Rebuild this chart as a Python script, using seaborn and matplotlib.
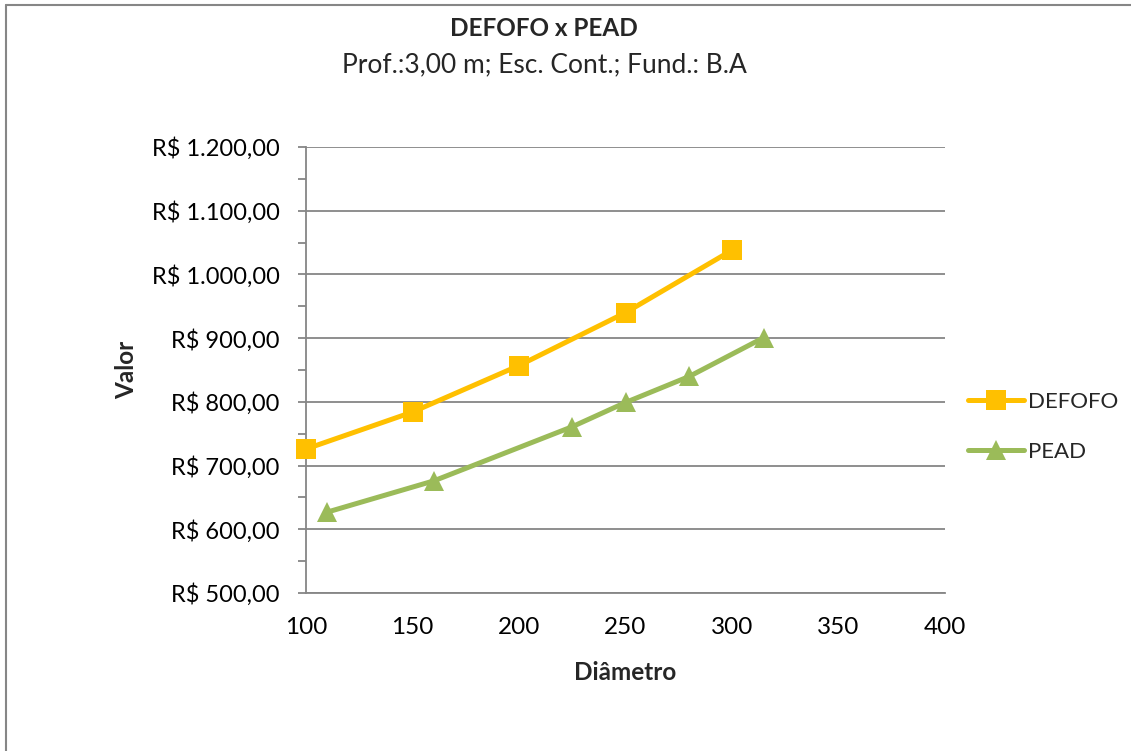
import matplotlib
matplotlib.use('Agg')
import matplotlib.pyplot as plt
from matplotlib.ticker import FuncFormatter, MultipleLocator
from matplotlib.lines import Line2D
import pandas as pd
import seaborn as sns

# dados
defofo_diam = [100, 150, 200, 250, 300]
defofo_valor = [726, 784, 857, 940, 1038]
pead_diam = [110, 160, 225, 250, 280, 315]
pead_valor = [627, 676, 761, 799, 840, 901]

titulo = 'DEFOFO x PEAD'
subtitulo = 'Prof.:3,00 m; Esc. Cont.; Fund.: B.A'

sns.set_style('white')
plt.rcParams['font.family'] = ['Lato', 'DejaVu Sans']

GRAY = '#868686'
W, H = 1131, 751

fig = plt.figure(figsize=(W / 100, H / 100), dpi=100)
ax = fig.add_axes([306 / W, 1 - 593 / H, (945 - 306) / W, (593 - 147) / H])

df_defofo = pd.DataFrame({'Diâmetro': defofo_diam, 'Valor': defofo_valor})
df_pead = pd.DataFrame({'Diâmetro': pead_diam, 'Valor': pead_valor})

sns.lineplot(data=df_defofo, x='Diâmetro', y='Valor', ax=ax, color='#FFC000',
             marker='s', markersize=14, markeredgewidth=0, linewidth=3.6,
             label='DEFOFO', clip_on=False, zorder=4)
sns.lineplot(data=df_pead, x='Diâmetro', y='Valor', ax=ax, color='#9BBB59',
             marker='^', markersize=15, markeredgewidth=0, linewidth=3.6,
             label='PEAD', clip_on=False, zorder=4)

ax.set_xlim(100, 400)
ax.set_ylim(500, 1200)
ax.xaxis.set_major_locator(MultipleLocator(50))
ax.yaxis.set_major_locator(MultipleLocator(100))
ax.yaxis.set_minor_locator(MultipleLocator(50))


def reais(v, pos):
    s = f'{v:,.2f}'.replace(',', '#').replace('.', ',').replace('#', '.')
    return 'R$ ' + s


ax.yaxis.set_major_formatter(FuncFormatter(reais))
ax.grid(axis='y', color=GRAY, linewidth=1.3)
ax.grid(axis='x', visible=False)
for side in ['top', 'right']:
    ax.spines[side].set_visible(False)
for side in ['left', 'bottom']:
    ax.spines[side].set_color(GRAY)
    ax.spines[side].set_linewidth(1.3)

ax.tick_params(axis='y', which='both', direction='out', length=6, width=1.3,
               color=GRAY, left=True, labelsize=17, pad=13, labelcolor='black')
ax.tick_params(axis='x', length=0, labelsize=17.5, pad=17, labelcolor='black')

ax.set_xlabel('Diâmetro', fontsize=17.5, fontweight='bold', labelpad=17)
ax.set_ylabel('Valor', fontsize=17.5, fontweight='bold', labelpad=10)

# titulo centrado na area do grafico (um pouco a esquerda do centro da figura)
cx = 544 / W
fig.text(cx, 1 - 29 / H, titulo, ha='center', va='center', fontsize=17.5,
         fontweight='bold')
fig.text(cx, 1 - 65 / H, subtitulo, ha='center', va='center', fontsize=19)

ax.legend(loc='center left', bbox_to_anchor=(948 / W, 1 - 427 / H),
          bbox_transform=fig.transFigure, frameon=False, fontsize=16,
          handlelength=2.5, handletextpad=0.22, labelspacing=1.35)

# moldura da area do grafico
fig.add_artist(Line2D([6 / W, 1.0], [1 - 5 / H, 1 - 5 / H], color=GRAY,
                      linewidth=1.5, transform=fig.transFigure))
fig.add_artist(Line2D([6 / W, 6 / W], [0.0, 1 - 5 / H], color=GRAY,
                      linewidth=1.5, transform=fig.transFigure))

fig.savefig('out.png', dpi=100)
